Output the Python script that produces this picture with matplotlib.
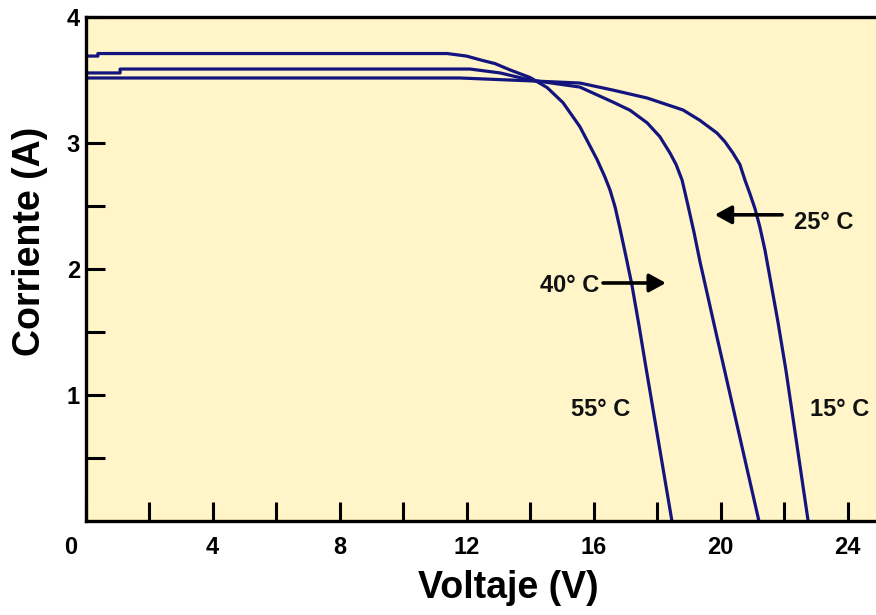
import matplotlib
matplotlib.use("Agg")
import matplotlib.pyplot as plt
from matplotlib.transforms import ScaledTranslation

# ---- data ----
v_55 = [0.0, 0.39, 0.39, 11.39, 12.0, 12.43, 12.9, 13.37, 14.0, 14.54, 15.04, 15.57, 16.11, 16.36,
        16.52, 16.68, 16.83, 17.02, 17.21, 17.43, 17.65, 18.47]
i_55 = [3.69, 3.69, 3.71, 3.71, 3.69, 3.66, 3.63, 3.58, 3.52, 3.44, 3.32, 3.13, 2.87, 2.73,
        2.627, 2.492, 2.325, 2.103, 1.873, 1.556, 1.222, 0.0]

v_mid = [0.0, 1.09, 1.09, 12.11, 13.06, 14.0, 15.57, 16.61, 17.15, 17.69, 18.09, 18.41, 18.6, 18.79,
         18.98, 19.17, 19.35, 19.57, 19.86, 20.14, 21.21]
i_mid = [3.556, 3.556, 3.587, 3.587, 3.556, 3.50, 3.444, 3.325, 3.26, 3.16, 3.05, 2.92, 2.83, 2.706,
         2.50, 2.286, 2.063, 1.817, 1.492, 1.183, 0.0]

v_15 = [0.0, 11.79, 14.31, 15.57, 16.61, 17.69, 18.82, 19.35, 19.89, 20.14, 20.39, 20.61, 20.77,
        20.93, 21.09, 21.24, 21.40, 21.56, 21.81, 22.06, 22.76]
i_15 = [3.516, 3.516, 3.49, 3.476, 3.42, 3.357, 3.262, 3.18, 3.079, 3.01, 2.921, 2.83, 2.706,
        2.595, 2.476, 2.333, 2.151, 1.929, 1.579, 1.198, 0.0]

x_major = [0, 4, 8, 12, 16, 20, 24]
x_minor = [2, 6, 10, 14, 18, 22]
y_major = [1, 2, 3, 4]
y_minor = [0.5, 1.5, 2.5]

labels = ["25° C", "40° C", "55° C", "15° C"]

# ---- figure ----
W, H = 876, 615
fig = plt.figure(figsize=(W / 100, H / 100), dpi=100)
fig.patch.set_facecolor("white")
left, right, bottom, top = 85.5, 876, 521, 17
ax = fig.add_axes([left / W, 1 - bottom / H, (right - left) / W, (bottom - top) / H])
ax.set_facecolor("#FFF5C9")

line_kw = dict(color="#14147E", lw=2.3, solid_joinstyle="round", solid_capstyle="butt")
ax.plot(v_55, i_55, **line_kw)
ax.plot(v_mid, i_mid, **line_kw)
ax.plot(v_15, i_15, **line_kw)

ax.set_xlim(0, (right - left) / 31.75)
ax.set_ylim(0, 4)

for s in ["left", "bottom", "top"]:
    ax.spines[s].set_linewidth(2.4)
    ax.spines[s].set_color("black")
ax.spines["right"].set_visible(False)

font = "Liberation Sans"
ax.set_xticks(x_major)
ax.set_xticks(x_minor, minor=True)
ax.set_yticks(y_major)
ax.set_yticks(y_minor, minor=True)
ax.set_xticklabels([str(v) for v in x_major], fontsize=17, fontweight="bold", family=font)
ax.set_yticklabels([str(v) for v in y_major], fontsize=17, fontweight="bold", family=font)

ax.tick_params(axis="both", which="both", direction="in", length=13.5, width=2.2, color="black")
ax.tick_params(axis="x", which="major", pad=11)
ax.tick_params(axis="y", which="major", pad=4)

# shift "0" label left as in the reference
lab0 = ax.get_xticklabels()[0]
lab0.set_transform(lab0.get_transform() + ScaledTranslation(-0.15, 0, fig.dpi_scale_trans))

ax.set_xlabel("Voltaje (V)", fontsize=27, fontweight="bold", family=font)
ax.xaxis.set_label_coords((508 - left) / (right - left), -0.098)
ax.set_ylabel("Corriente (A)", fontsize=27, fontweight="bold", family=font)
ax.yaxis.set_label_coords(-0.047, 0.554)

txt_kw = dict(fontsize=17, fontweight="bold", family=font, ha="center", va="center", color="#111111")
arrow_kw = dict(arrowstyle="-|>,head_length=1.0,head_width=0.55", lw=2.6, color="black", shrinkA=0, shrinkB=0)

# 25 °C arrow and label
ax.annotate("", xy=(19.82, 2.43), xytext=(21.94, 2.43), arrowprops=arrow_kw)
ax.text(23.25, 2.37, labels[0], **txt_kw)
# 40 °C arrow and label
ax.annotate("", xy=(18.28, 1.889), xytext=(16.3, 1.889), arrowprops=arrow_kw)
ax.text(15.25, 1.873, labels[1], **txt_kw)
# 55 °C, 15 °C labels
ax.text(16.22, 0.881, labels[2], **txt_kw)
ax.text(23.76, 0.881, labels[3], **txt_kw)

fig.savefig("out.png", dpi=100, facecolor=fig.get_facecolor())
